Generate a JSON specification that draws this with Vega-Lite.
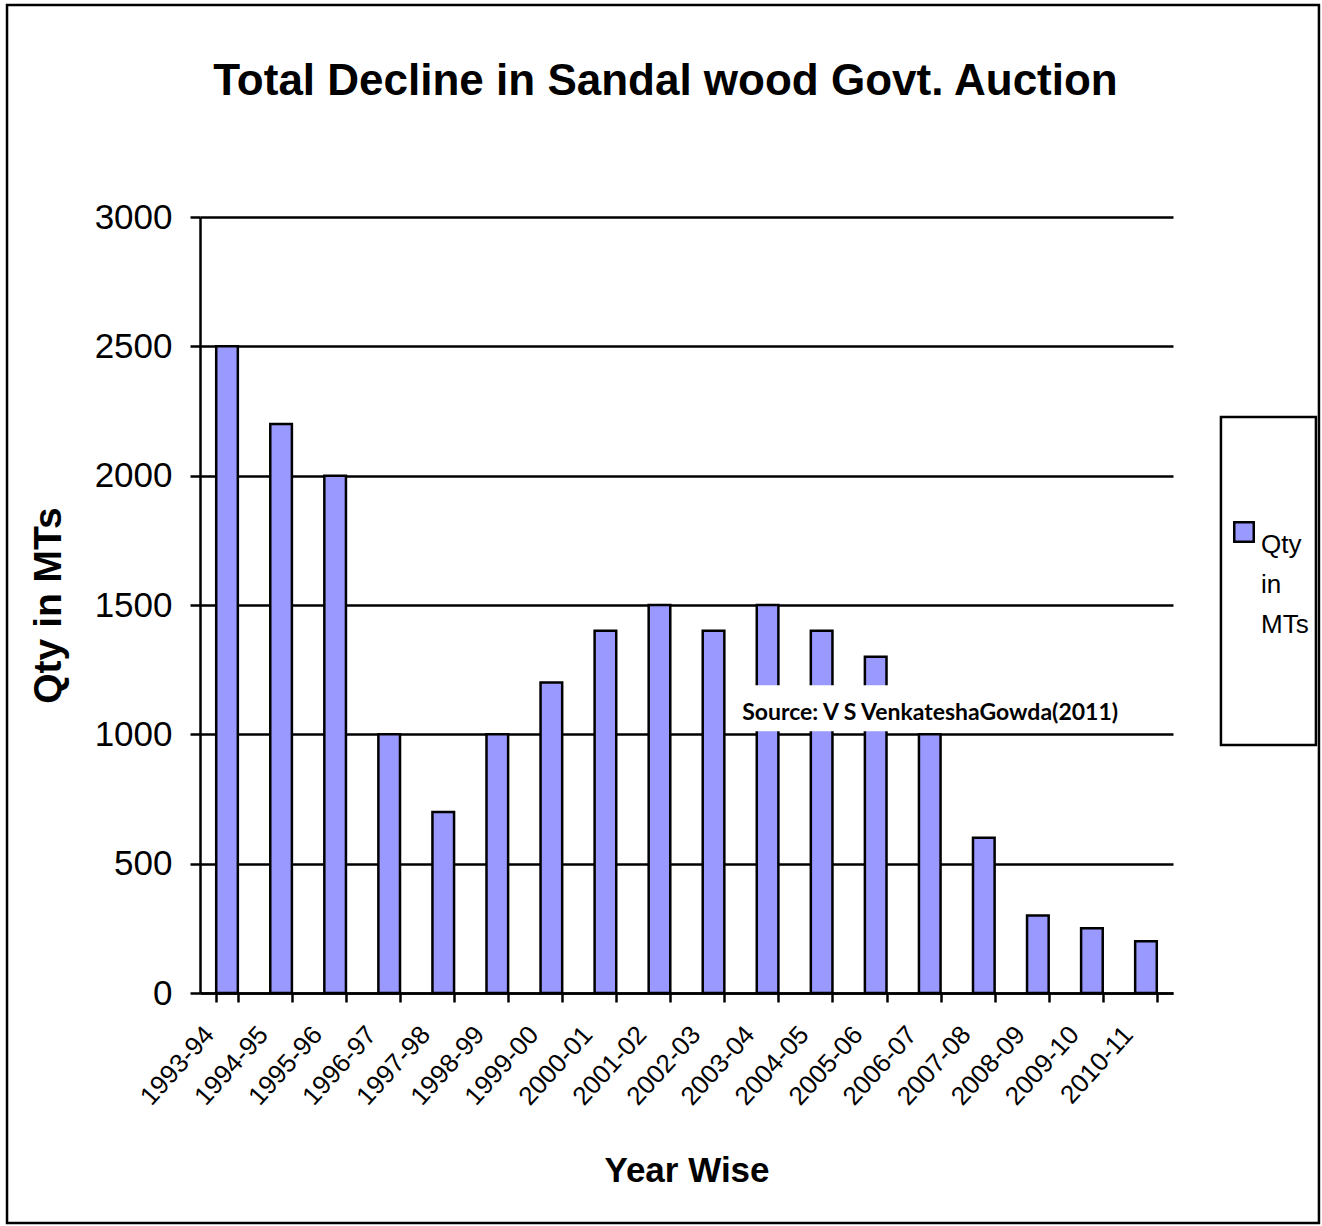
{
  "$schema": "https://vega.github.io/schema/vega-lite/v6.json",
  "width": 973,
  "height": 776,
  "autosize": "none",
  "padding": {"left": 200, "top": 217, "right": 149, "bottom": 233},
  "background": "white",
  "title": {
    "text": "Total Decline in Sandal wood Govt. Auction",
    "font": "Liberation Sans",
    "fontSize": 44,
    "fontWeight": "bold",
    "color": "black",
    "anchor": "middle",
    "dx": -21,
    "offset": -100
  },
  "config": {
    "view": {"stroke": null},
    "style": {"guide-label": {"lineHeight": 40}}
  },
  "resolve": {"scale": {"x": "independent", "y": "independent"}},
  "layer": [
    {
      "data": {"values": [{"part": "frame"}]},
      "mark": {"type": "rect", "filled": false, "stroke": "black", "strokeWidth": 2.5},
      "encoding": {
        "x": {"datum": -3.57, "type": "quantitative", "scale": {"domain": [0, 18]}, "axis": null},
        "x2": {"datum": 20.7},
        "y": {"datum": 3819.6, "type": "quantitative", "scale": {"domain": [0, 3000]}, "axis": null},
        "y2": {"datum": -889.2}
      }
    },
    {
      "data": {
        "values": [
          {"year": "1993-94", "qty": 2500},
          {"year": "1994-95", "qty": 2200},
          {"year": "1995-96", "qty": 2000},
          {"year": "1996-97", "qty": 1000},
          {"year": "1997-98", "qty": 700},
          {"year": "1998-99", "qty": 1000},
          {"year": "1999-00", "qty": 1200},
          {"year": "2000-01", "qty": 1400},
          {"year": "2001-02", "qty": 1500},
          {"year": "2002-03", "qty": 1400},
          {"year": "2003-04", "qty": 1500},
          {"year": "2004-05", "qty": 1400},
          {"year": "2005-06", "qty": 1300},
          {"year": "2006-07", "qty": 1000},
          {"year": "2007-08", "qty": 600},
          {"year": "2008-09", "qty": 300},
          {"year": "2009-10", "qty": 250},
          {"year": "2010-11", "qty": 200}
        ]
      },
      "mark": {"type": "bar", "stroke": "black", "strokeWidth": 2.5},
      "encoding": {
        "x": {
          "field": "year",
          "type": "nominal",
          "sort": null,
          "scale": {"paddingInner": 0.6, "paddingOuter": 0.3},
          "axis": {
            "orient": "bottom",
            "title": "Year Wise",
            "titleFont": "Liberation Sans",
            "titleFontSize": 35,
            "titleFontWeight": "bold",
            "titleColor": "black",
            "titlePadding": 44,
            "labelAngle": -48,
            "labelAlign": "right",
            "labelBaseline": "middle",
            "labelFont": "Liberation Sans",
            "labelFontSize": 26,
            "labelColor": "black",
            "labelPadding": 28,
            "labelOffset": -18,
            "tickBand": "extent",
            "tickSize": 9,
            "tickWidth": 2.5,
            "tickColor": "black",
            "domainColor": "black",
            "domainWidth": 2.5,
            "grid": false
          }
        },
        "y": {
          "field": "qty",
          "type": "quantitative",
          "scale": {"domain": [0, 3000], "nice": false},
          "axis": {
            "title": "Qty in MTs",
            "titleFont": "Liberation Sans",
            "titleFontSize": 39,
            "titleFontWeight": "bold",
            "titleColor": "black",
            "titlePadding": 26,
            "values": [0, 500, 1000, 1500, 2000, 2500, 3000],
            "format": "d",
            "labelFont": "Liberation Sans",
            "labelFontSize": 35,
            "labelColor": "black",
            "labelPadding": 18,
            "tickSize": 10,
            "tickWidth": 2.5,
            "tickColor": "black",
            "domainColor": "black",
            "domainWidth": 2.5,
            "grid": true,
            "gridColor": "black",
            "gridWidth": 2.5,
            "gridOpacity": 1
          }
        },
        "color": {
          "datum": "Qty in MTs",
          "type": "nominal",
          "scale": {"range": ["#9999FF"]},
          "legend": {
            "orient": "none",
            "legendX": 1031,
            "legendY": 302,
            "title": null,
            "padding": 0,
            "symbolType": "square",
            "symbolSize": 380,
            "symbolStrokeColor": "black",
            "symbolStrokeWidth": 2.5,
            "symbolFillColor": "#9999FF",
            "labelFont": "Liberation Sans",
            "labelFontSize": 26,
            "labelColor": "black",
            "labelExpr": "['Qty','in','MTs']",
            "labelBaseline": "top",
            "labelOffset": 4,
            "labelLimit": 0
          }
        }
      }
    },
    {
      "data": {"values": [{"part": "source box"}]},
      "mark": {"type": "rect", "fill": "white", "stroke": null},
      "encoding": {
        "x": {"datum": 9.99, "type": "quantitative", "scale": {"domain": [0, 18]}, "axis": null},
        "x2": {"datum": 17.11},
        "y": {"datum": 1190, "type": "quantitative", "scale": {"domain": [0, 3000]}, "axis": null},
        "y2": {"datum": 1012}
      }
    },
    {
      "data": {"values": [{"label": "Source: V S VenkateshaGowda(2011)", "pos": 10.03, "level": 1082}]},
      "mark": {"type": "text", "font": "Lato", "fontWeight": "bold", "fontSize": 23, "align": "left", "baseline": "middle", "color": "black"},
      "encoding": {
        "x": {"field": "pos", "type": "quantitative", "scale": {"domain": [0, 18]}, "axis": null},
        "y": {"field": "level", "type": "quantitative", "scale": {"domain": [0, 3000]}, "axis": null},
        "text": {"field": "label"}
      }
    },
    {
      "data": {"values": [{"part": "legend box"}]},
      "mark": {"type": "rect", "fill": "white", "stroke": "black", "strokeWidth": 2.5},
      "encoding": {
        "x": {"datum": 18.887, "type": "quantitative", "scale": {"domain": [0, 18]}, "axis": null},
        "x2": {"datum": 20.644},
        "y": {"datum": 2226.8, "type": "quantitative", "scale": {"domain": [0, 3000]}, "axis": null},
        "y2": {"datum": 958.8}
      }
    }
  ]
}
